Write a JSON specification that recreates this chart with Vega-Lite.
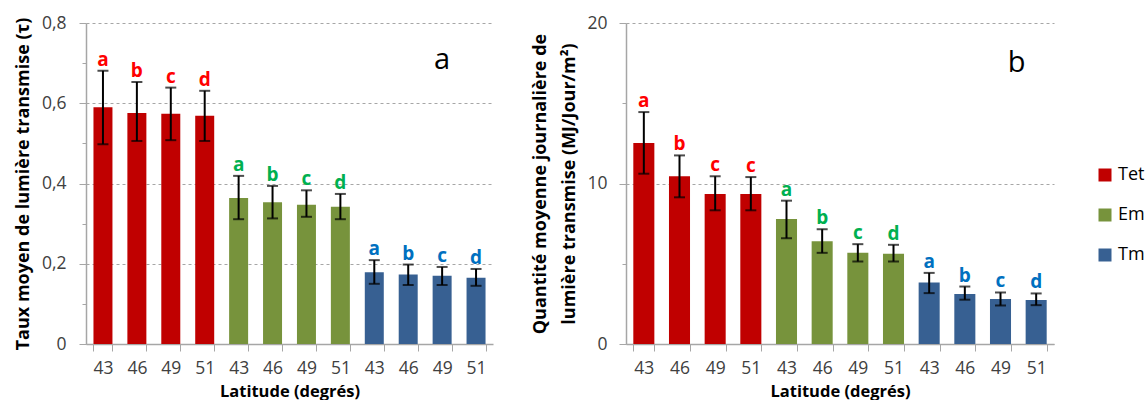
{
  "$schema": "https://vega.github.io/schema/vega-lite/v6.json",
  "padding": {"left": 14, "top": 14, "right": 0, "bottom": 0},
  "background": "white",
  "config": {
    "font": "Open Sans",
    "view": {"stroke": null},
    "axis": {
      "labelFont": "Open Sans", "titleFont": "Open Sans",
      "labelColor": "#404040", "labelFontSize": 17.5,
      "titleFontSize": 18, "titleFontWeight": "bold", "titleColor": "#000000",
      "domainColor": "#A6A6A6", "tickColor": "#A6A6A6", "domainWidth": 1.5
    },
    "axisX": {"titleFontSize": 16.5},
    "legend": {"labelFont": "Open Sans"}
  },
  "datasets": {
    "panelA": [
      {"key": "Tet-43", "group": "Tet", "mean": 0.590, "lo": 0.498, "hi": 0.681, "letter": "a"},
      {"key": "Tet-46", "group": "Tet", "mean": 0.576, "lo": 0.506, "hi": 0.653, "letter": "b"},
      {"key": "Tet-49", "group": "Tet", "mean": 0.574, "lo": 0.508, "hi": 0.639, "letter": "c"},
      {"key": "Tet-51", "group": "Tet", "mean": 0.569, "lo": 0.506, "hi": 0.631, "letter": "d"},
      {"key": "Em-43", "group": "Em", "mean": 0.364, "lo": 0.311, "hi": 0.419, "letter": "a"},
      {"key": "Em-46", "group": "Em", "mean": 0.353, "lo": 0.313, "hi": 0.394, "letter": "b"},
      {"key": "Em-49", "group": "Em", "mean": 0.347, "lo": 0.317, "hi": 0.383, "letter": "c"},
      {"key": "Em-51", "group": "Em", "mean": 0.342, "lo": 0.311, "hi": 0.374, "letter": "d"},
      {"key": "Tm-43", "group": "Tm", "mean": 0.179, "lo": 0.150, "hi": 0.209, "letter": "a"},
      {"key": "Tm-46", "group": "Tm", "mean": 0.173, "lo": 0.147, "hi": 0.198, "letter": "b"},
      {"key": "Tm-49", "group": "Tm", "mean": 0.170, "lo": 0.147, "hi": 0.192, "letter": "c"},
      {"key": "Tm-51", "group": "Tm", "mean": 0.165, "lo": 0.145, "hi": 0.187, "letter": "d"}
    ],
    "panelB": [
      {"key": "Tet-43", "group": "Tet", "mean": 12.52, "lo": 10.61, "hi": 14.45, "letter": "a"},
      {"key": "Tet-46", "group": "Tet", "mean": 10.45, "lo": 9.14, "hi": 11.75, "letter": "b"},
      {"key": "Tet-49", "group": "Tet", "mean": 9.35, "lo": 8.33, "hi": 10.45, "letter": "c"},
      {"key": "Tet-51", "group": "Tet", "mean": 9.35, "lo": 8.33, "hi": 10.40, "letter": "c"},
      {"key": "Em-43", "group": "Em", "mean": 7.79, "lo": 6.59, "hi": 8.93, "letter": "a"},
      {"key": "Em-46", "group": "Em", "mean": 6.40, "lo": 5.68, "hi": 7.15, "letter": "b"},
      {"key": "Em-49", "group": "Em", "mean": 5.68, "lo": 5.14, "hi": 6.22, "letter": "c"},
      {"key": "Em-51", "group": "Em", "mean": 5.62, "lo": 5.14, "hi": 6.18, "letter": "d"},
      {"key": "Tm-43", "group": "Tm", "mean": 3.83, "lo": 3.17, "hi": 4.43, "letter": "a"},
      {"key": "Tm-46", "group": "Tm", "mean": 3.11, "lo": 2.76, "hi": 3.58, "letter": "b"},
      {"key": "Tm-49", "group": "Tm", "mean": 2.80, "lo": 2.40, "hi": 3.21, "letter": "c"},
      {"key": "Tm-51", "group": "Tm", "mean": 2.74, "lo": 2.42, "hi": 3.15, "letter": "d"}
    ],
    "labelA": [{"key": "Tm-49", "v": 0.685, "lab": "a"}],
    "labelB": [{"key": "Tm-49", "v": 16.93, "lab": "b"}]
  },
  "spacing": 38,
  "hconcat": [
    {
      "width": 407, "height": 321,
      "data": {"name": "panelA"},
      "resolve": {"axis": {"y": "independent"}},
      "layer": [
        {
          "mark": {"type": "bar"},
          "encoding": {
            "x": {"field": "key", "type": "nominal", "sort": null,
              "scale": {"domain": ["Tet-43","Tet-46","Tet-49","Tet-51","Em-43","Em-46","Em-49","Em-51","Tm-43","Tm-46","Tm-49","Tm-51"], "paddingInner": 0.44, "paddingOuter": 0.22},
              "axis": {"title": "Latitude (degrés)", "labelExpr": "split(datum.value,'-')[1]", "labelAngle": 0, "tickBand": "extent", "tickSize": 7, "labelPadding": 8, "titlePadding": 7}},
            "y": {"field": "mean", "type": "quantitative",
              "scale": {"domain": [0, 0.8], "nice": false},
              "axis": {"values": [0, 0.2, 0.4, 0.6, 0.8], "title": "Taux moyen de lumière transmise (τ)",
                "labelExpr": "datum.value == 0 ? '0' : replace(format(datum.value, '.1f'), '.', ',')",
                "grid": true, "gridDash": [3, 3], "gridColor": "#A6A6A6", "tickSize": 7, "labelPadding": 13, "titlePadding": 9}},
            "color": {"field": "group", "type": "nominal",
              "scale": {"domain": ["Tet", "Em", "Tm"], "range": ["#C00000", "#77933C", "#376092"]},
              "legend": {"orient": "none", "legendX": 1010, "legendY": 143, "title": null, "symbolType": "square", "symbolSize": 169, "symbolStrokeWidth": 0, "symbolOpacity": 1, "labelFontSize": 18, "labelColor": "#000000", "rowPadding": 22, "labelOffset": 4, "padding": 0}}
          }
        },
        {
          "mark": {"type": "errorbar", "ticks": {"size": 11, "thickness": 2, "color": "black"}, "rule": {"strokeWidth": 2, "color": "black"}},
          "encoding": {
            "x": {"field": "key", "type": "nominal", "sort": null},
            "y": {"field": "lo", "type": "quantitative",
              "axis": {"values": [0.1, 0.3, 0.5, 0.7], "labels": false, "title": null, "grid": false, "domain": false, "tickSize": 4, "orient": "left"}},
            "y2": {"field": "hi"}
          }
        },
        {
          "mark": {"type": "text", "fontWeight": "bold", "fontSize": 19, "baseline": "alphabetic", "dy": -5},
          "encoding": {
            "x": {"field": "key", "type": "nominal", "sort": null},
            "y": {"field": "hi", "type": "quantitative", "axis": null},
            "text": {"field": "letter"},
            "fill": {"field": "group", "type": "nominal",
              "scale": {"domain": ["Tet", "Em", "Tm"], "range": ["#FF0000", "#00B050", "#0070C0"]}, "legend": null}
          }
        },
        {
          "data": {"name": "labelA"},
          "mark": {"type": "text", "fontSize": 29, "baseline": "alphabetic", "color": "#000000"},
          "encoding": {
            "x": {"field": "key", "type": "nominal", "sort": null},
            "y": {"field": "v", "type": "quantitative", "axis": null},
            "text": {"field": "lab"}
          }
        }
      ]
    },
    {
      "width": 428, "height": 321,
      "data": {"name": "panelB"},
      "resolve": {"axis": {"y": "independent"}},
      "layer": [
        {
          "mark": {"type": "bar"},
          "encoding": {
            "x": {"field": "key", "type": "nominal", "sort": null,
              "scale": {"domain": ["Tet-43","Tet-46","Tet-49","Tet-51","Em-43","Em-46","Em-49","Em-51","Tm-43","Tm-46","Tm-49","Tm-51"], "paddingInner": 0.41, "paddingOuter": 0.205},
              "axis": {"title": "Latitude (degrés)", "labelExpr": "split(datum.value,'-')[1]", "labelAngle": 0, "tickBand": "extent", "tickSize": 7, "labelPadding": 8, "titlePadding": 7}},
            "y": {"field": "mean", "type": "quantitative",
              "scale": {"domain": [0, 20], "nice": false},
              "axis": {"values": [0, 10, 20], "title": ["Quantité moyenne journalière de", "lumière transmise (MJ/Jour/m²)"], "titleLineHeight": 29,
                "grid": true, "gridDash": [3, 3], "gridColor": "#A6A6A6", "tickSize": 7, "labelPadding": 12, "titlePadding": 8}},
            "color": {"field": "group", "type": "nominal"}
          }
        },
        {
          "mark": {"type": "errorbar", "ticks": {"size": 11, "thickness": 2, "color": "black"}, "rule": {"strokeWidth": 2, "color": "black"}},
          "encoding": {
            "x": {"field": "key", "type": "nominal", "sort": null},
            "y": {"field": "lo", "type": "quantitative",
              "axis": {"values": [5, 15], "labels": false, "title": null, "grid": false, "domain": false, "tickSize": 4, "orient": "left"}},
            "y2": {"field": "hi"}
          }
        },
        {
          "mark": {"type": "text", "fontWeight": "bold", "fontSize": 19, "baseline": "alphabetic", "dy": -5},
          "encoding": {
            "x": {"field": "key", "type": "nominal", "sort": null},
            "y": {"field": "hi", "type": "quantitative", "axis": null},
            "text": {"field": "letter"},
            "fill": {"field": "group", "type": "nominal"}
          }
        },
        {
          "data": {"name": "labelB"},
          "mark": {"type": "text", "fontSize": 29, "baseline": "alphabetic", "color": "#000000", "dx": 16},
          "encoding": {
            "x": {"field": "key", "type": "nominal", "sort": null},
            "y": {"field": "v", "type": "quantitative", "axis": null},
            "text": {"field": "lab"}
          }
        }
      ]
    }
  ]
}
